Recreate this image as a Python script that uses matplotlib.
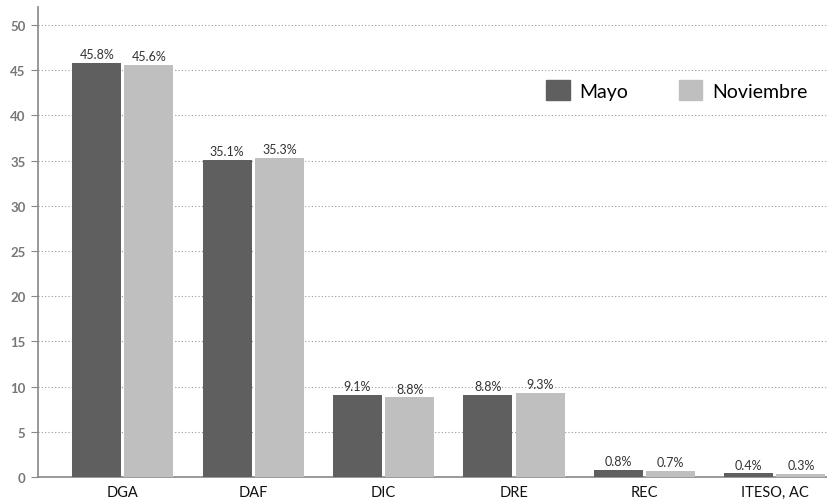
import matplotlib.pyplot as plt
from matplotlib.patches import Patch
import numpy as np

plt.rcParams['font.family'] = ['Lato', 'DejaVu Sans']

categories = ['DGA', 'DAF', 'DIC', 'DRE', 'REC', 'ITESO, AC']
mayo = [45.8, 35.1, 9.1, 9.1, 0.8, 0.4]
noviembre = [45.6, 35.3, 8.8, 9.3, 0.7, 0.3]
mayo_labels = ['45.8%', '35.1%', '9.1%', '8.8%', '0.8%', '0.4%']
noviembre_labels = ['45.6%', '35.3%', '8.8%', '9.3%', '0.7%', '0.3%']
yticks = [0, 5, 10, 15, 20, 25, 30, 35, 40, 45, 50]

dark = '#5f5f5f'
light = '#bfbfbf'

fig = plt.figure(figsize=(8.27, 5.02), dpi=100)
ax = fig.add_axes([0.046, 0.048, 0.954, 0.936])

x = np.arange(len(categories))
w = 0.375
b1 = ax.bar(x - 0.2, mayo, w, color=dark, zorder=3)
b2 = ax.bar(x + 0.2, noviembre, w, color=light, zorder=3)

for bars, labs in [(b1, mayo_labels), (b2, noviembre_labels)]:
    for bar, lab in zip(bars, labs):
        ax.annotate(lab, (bar.get_x() + bar.get_width() / 2, bar.get_height()),
                    xytext=(0, 2), textcoords='offset points', ha='center', va='bottom',
                    fontsize=9, color='#333333')

ax.set_xlim(-0.65, 5.4)
ax.set_ylim(0, 52)
ax.set_yticks(yticks)
ax.set_xticks(x)
ax.set_xticklabels(categories, fontsize=10.5, color='#111111')
ax.tick_params(axis='x', length=0, pad=6)
ax.tick_params(axis='y', length=5, color='#888888', labelcolor='#777777', labelsize=9.5, pad=4)
for t in ax.get_yticklabels():
    t.set_fontweight('bold')

ax.grid(axis='y', linestyle=(0, (1, 2)), color='#999999', linewidth=0.8, zorder=0)
ax.spines['top'].set_visible(False)
ax.spines['right'].set_visible(False)
ax.spines['left'].set_color('#888888')
ax.spines['bottom'].set_color('#888888')
ax.spines['left'].set_linewidth(1.2)
ax.spines['bottom'].set_linewidth(1.2)

handles = [Patch(color=dark, label='Mayo'), Patch(color=light, label='Noviembre')]
ax.legend(handles=handles, loc='center right', bbox_to_anchor=(0.997, 0.823), ncol=2,
          frameon=False, fontsize=14, handlelength=1.2, handleheight=1.2,
          columnspacing=2.6, handletextpad=0.5)

fig.savefig('out.png', dpi=100)
